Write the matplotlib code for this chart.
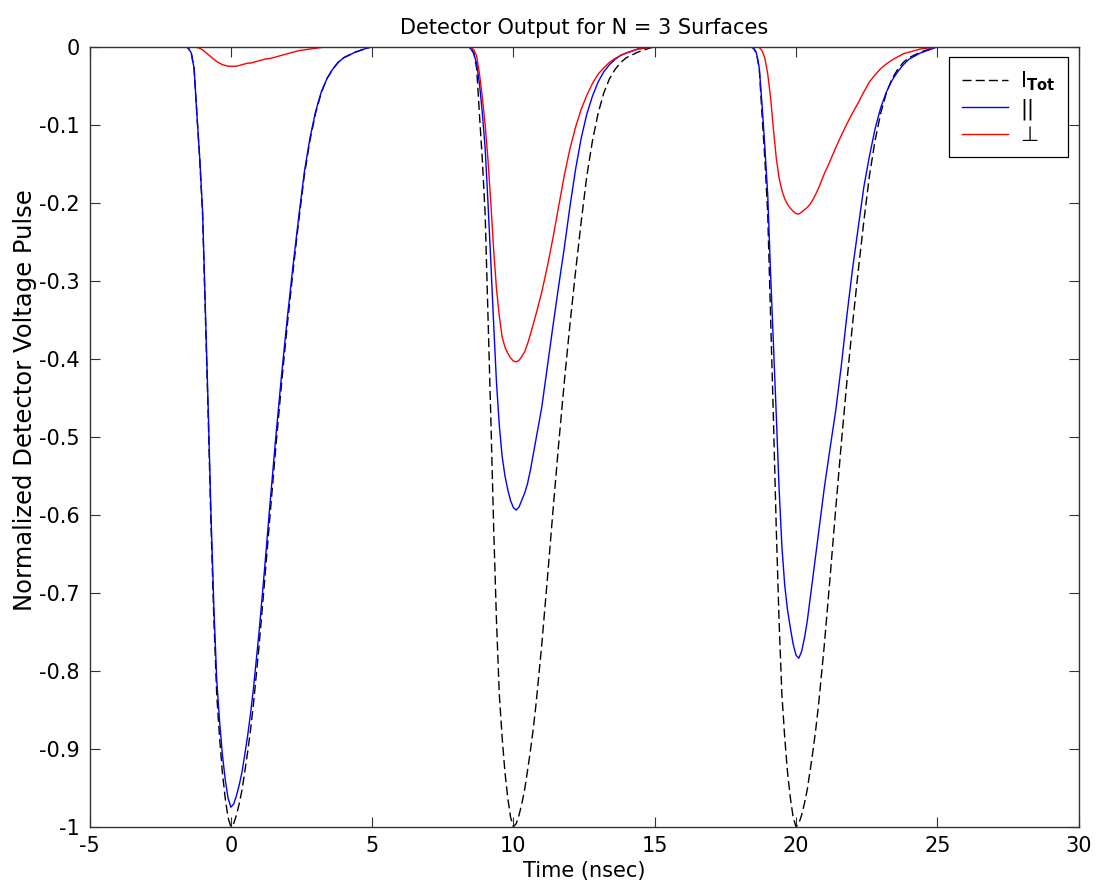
import numpy as np
import matplotlib
matplotlib.use("Agg")
import matplotlib.pyplot as plt

plt.rcParams['font.family'] = ['DejaVu Sans']
plt.rcParams['axes.unicode_minus'] = False
plt.rcParams['mathtext.fontset'] = 'dejavusans'

# pulse arrival times (nsec)
pulse_centers = [0, 10, 20]

# sample times relative to each pulse centre (nsec)
offsets = [-1.6, -1.5, -1.4, -1.3, -1.2, -1.1, -1.0, -0.9, -0.8, -0.7,
           -0.6, -0.5, -0.4, -0.3, -0.2, -0.1, 0.0, 0.1, 0.2, 0.3,
           0.4, 0.5, 0.6, 0.7, 0.8, 0.9, 1.0, 1.2, 1.4, 1.6,
           1.8, 2.0, 2.2, 2.4, 2.6, 2.8, 3.0, 3.2, 3.4, 3.6,
           3.8, 4.0, 4.4, 4.8, 5.0]

# total intensity pulse (same for every surface)
i_tot = [0.0, -0.002, -0.008, -0.028, -0.088, -0.145, -0.215, -0.345, -0.475, -0.615,
         -0.735, -0.83, -0.885, -0.93, -0.963, -0.988, -1.0, -0.996, -0.985, -0.97,
         -0.952, -0.928, -0.903, -0.875, -0.843, -0.806, -0.768, -0.683, -0.595, -0.51,
         -0.43, -0.356, -0.288, -0.224, -0.165, -0.12, -0.085, -0.059, -0.041, -0.029,
         -0.02, -0.014, -0.007, -0.002, 0.0]

# parallel component, surfaces 1..3
par_1 = [0.0, -0.002, -0.008, -0.028, -0.087, -0.143, -0.211, -0.338, -0.465, -0.602,
         -0.719, -0.811, -0.864, -0.907, -0.939, -0.963, -0.975, -0.971, -0.96, -0.946,
         -0.929, -0.906, -0.882, -0.854, -0.823, -0.787, -0.75, -0.667, -0.58, -0.497,
         -0.419, -0.347, -0.281, -0.219, -0.161, -0.117, -0.083, -0.058, -0.041, -0.029,
         -0.02, -0.014, -0.007, -0.002, 0.0]
par_2 = [0.0, -0.003, -0.009, -0.022, -0.048, -0.085, -0.13, -0.2, -0.275, -0.355,
         -0.43, -0.485, -0.525, -0.55, -0.568, -0.582, -0.591, -0.594, -0.59, -0.581,
         -0.572, -0.56, -0.543, -0.523, -0.503, -0.483, -0.463, -0.41, -0.358, -0.307,
         -0.258, -0.205, -0.157, -0.117, -0.086, -0.063, -0.045, -0.032, -0.023, -0.016,
         -0.011, -0.008, -0.003, -0.001, 0.0]
par_3 = [0.0, -0.002, -0.008, -0.027, -0.075, -0.13, -0.19, -0.29, -0.38, -0.47,
         -0.565, -0.64, -0.69, -0.722, -0.745, -0.766, -0.78, -0.784, -0.775, -0.758,
         -0.736, -0.708, -0.68, -0.652, -0.623, -0.594, -0.566, -0.516, -0.468, -0.41,
         -0.345, -0.285, -0.232, -0.18, -0.14, -0.105, -0.078, -0.058, -0.043, -0.032,
         -0.023, -0.016, -0.008, -0.003, 0.0]

# perpendicular component, surfaces 1..3
perp_1 = [0.0, 0.0, 0.0, 0.0, -0.001, -0.002, -0.004, -0.007, -0.01, -0.013,
          -0.016, -0.019, -0.021, -0.023, -0.024, -0.025, -0.025, -0.025, -0.025, -0.024,
          -0.023, -0.022, -0.021, -0.021, -0.02, -0.019, -0.018, -0.016, -0.015, -0.013,
          -0.011, -0.009, -0.007, -0.005, -0.004, -0.003, -0.002, -0.001, 0.0, 0.0,
          0.0, 0.0, 0.0, 0.0, 0.0]
perp_2 = [0.0, -0.001, -0.004, -0.012, -0.035, -0.065, -0.1, -0.145, -0.2, -0.26,
          -0.31, -0.345, -0.372, -0.385, -0.393, -0.399, -0.403, -0.404, -0.402, -0.397,
          -0.391, -0.381, -0.369, -0.356, -0.343, -0.329, -0.315, -0.282, -0.245, -0.205,
          -0.165, -0.131, -0.103, -0.08, -0.062, -0.047, -0.035, -0.027, -0.02, -0.015,
          -0.011, -0.008, -0.003, -0.001, 0.0]
perp_3 = [0.0, 0.0, 0.0, -0.001, -0.005, -0.015, -0.035, -0.065, -0.105, -0.142,
          -0.168, -0.184, -0.195, -0.202, -0.207, -0.211, -0.214, -0.2145, -0.212, -0.209,
          -0.206, -0.202, -0.196, -0.189, -0.181, -0.172, -0.163, -0.147, -0.13, -0.114,
          -0.099, -0.085, -0.072, -0.058, -0.045, -0.036, -0.028, -0.022, -0.017, -0.013,
          -0.009, -0.007, -0.003, -0.001, 0.0]

y_ticks = [-1, -0.9, -0.8, -0.7, -0.6, -0.5, -0.4, -0.3, -0.2, -0.1, 0]
y_tick_labels = ['-1', '-0.9', '-0.8', '-0.7', '-0.6', '-0.5', '-0.4', '-0.3', '-0.2', '-0.1', '0']
x_ticks = [-5, 0, 5, 10, 15, 20, 25, 30]


def trace(pulses):
    # string the three pulses together on one time axis, flat at zero in between
    t = [-5.0]
    v = [0.0]
    for c, p in zip(pulse_centers, pulses):
        t += [c + dt for dt in offsets]
        v += list(p)
    t.append(30.0)
    v.append(0.0)
    return np.array(t), np.array(v)


t_tot, v_tot = trace([i_tot, i_tot, i_tot])
t_par, v_par = trace([par_1, par_2, par_3])
t_perp, v_perp = trace([perp_1, perp_2, perp_3])

fig = plt.figure(figsize=(10.96, 8.9), dpi=100)
ax = fig.add_axes([0.0817, 0.0711, 0.9024, 0.8764])

ax.plot(t_tot, v_tot, color='black', lw=1.0, dashes=(6.5, 3), label=r'$\mathrm{I}_{\mathbf{Tot}}$')
ax.plot(t_par, v_par, color='blue', lw=1.0, label='||')
ax.plot(t_perp, v_perp, color='red', lw=1.0, label='\u22a5')

ax.set_xlim(-5, 30)
ax.set_ylim(-1, 0)
ax.set_xticks(x_ticks)
ax.set_xticklabels([str(x) for x in x_ticks])
ax.set_yticks(y_ticks)
ax.set_yticklabels(y_tick_labels)
ax.tick_params(direction='in', length=7, width=0.8, top=True, right=True,
               labelsize=15, pad=7, color='#333333')
for s in ax.spines.values():
    s.set_linewidth(1.0)
    s.set_color('#333333')
    s.set_zorder(3)

ax.set_title('Detector Output for N = 3 Surfaces', fontsize=15, pad=9)
ax.set_xlabel('Time (nsec)', fontsize=15, labelpad=3)
ax.set_ylabel('Normalized Detector Voltage Pulse', fontsize=17.5)
ax.yaxis.set_label_coords(-0.053, 0.547)

leg = ax.legend(loc='upper right', bbox_to_anchor=(0.989, 0.987), borderaxespad=0,
                fontsize=15, fancybox=False, framealpha=1, edgecolor='black',
                handlelength=2.2, handletextpad=0.6, labelspacing=0.25, borderpad=0.6)
leg.get_frame().set_linewidth(0.9)

fig.savefig('out.png', dpi=100)
